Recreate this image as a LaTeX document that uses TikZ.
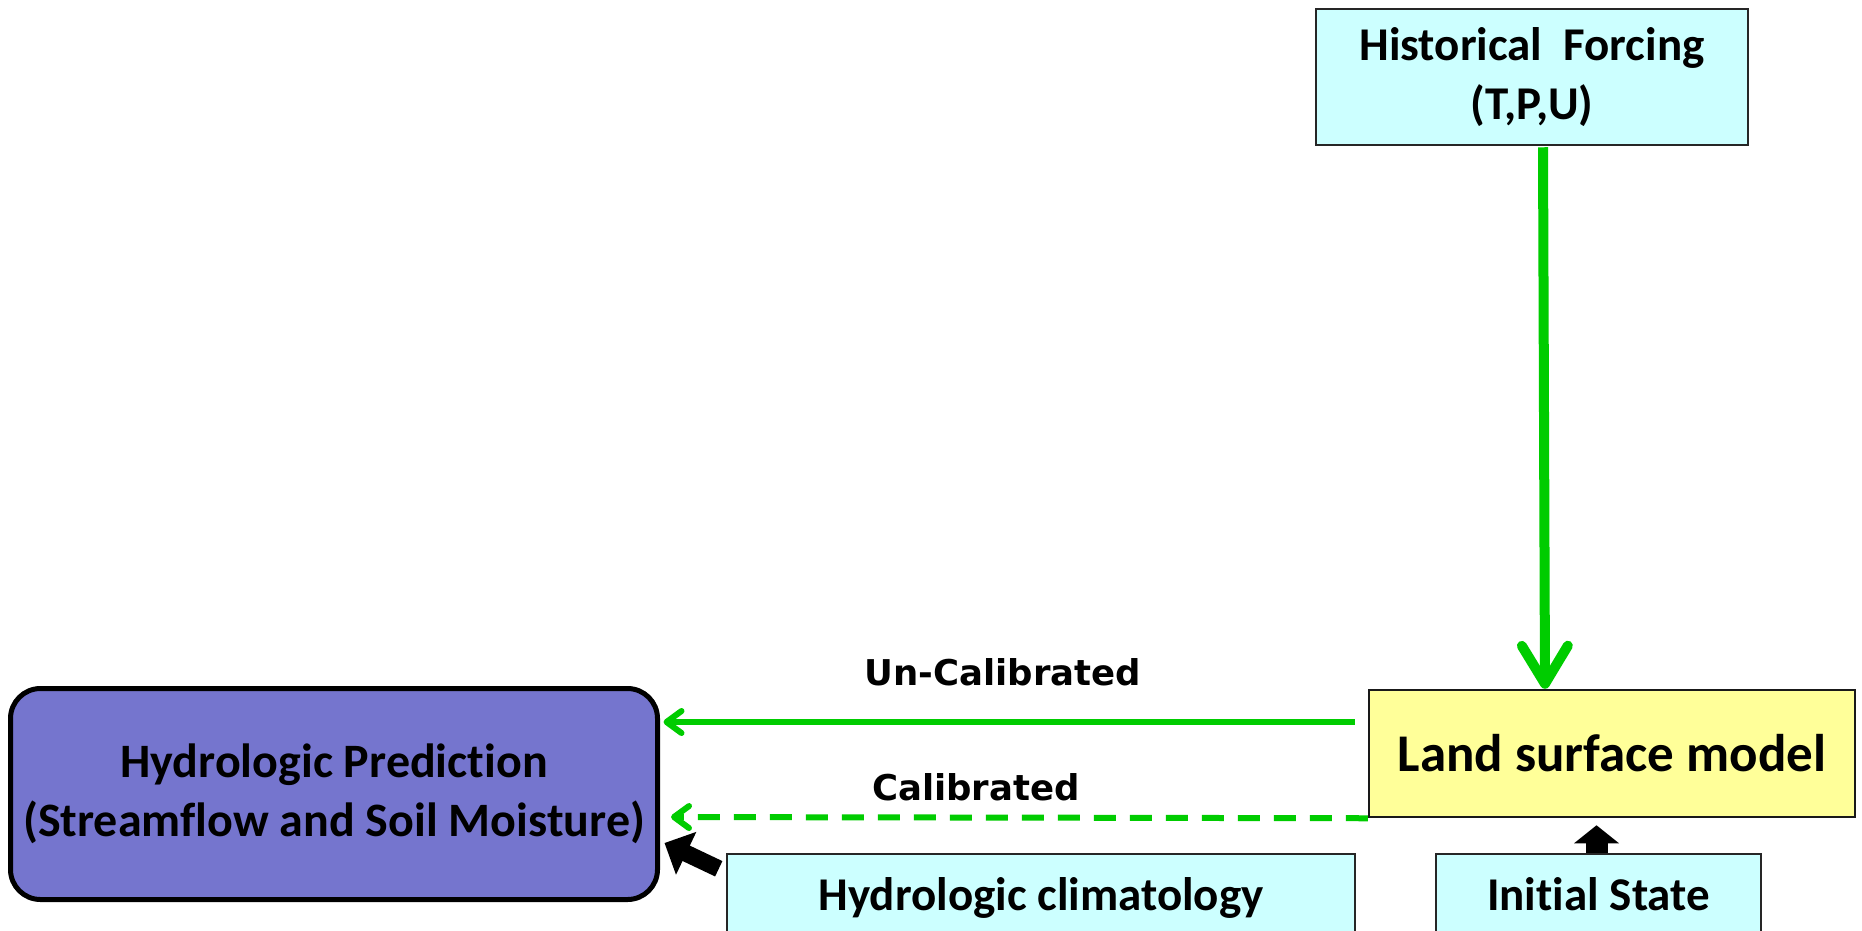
\documentclass[tikz,border=0pt]{standalone}
\usepackage{fontspec}
\setmainfont{Carlito}[Ligatures={NoCommon}]
\newfontfamily\labelfont{DejaVu Sans}
\usetikzlibrary{arrows.meta,calc}
\definecolor{fgreen}{RGB}{0,204,0}
\definecolor{cyanbox}{RGB}{204,255,255}
\definecolor{yelbox}{RGB}{255,255,153}
\definecolor{purbox}{RGB}{117,117,206}
\begin{document}
\begin{tikzpicture}[x=1pt,y=-1pt,
  box/.style={draw=black!85, line width=2.5pt, fill=cyanbox, inner sep=0pt, align=center,
    font=\bfseries\fontsize{47}{59}\selectfont},
  lowbox/.style={box, minimum height=88pt, text height=35pt, text depth=10pt},
  lsmbox/.style={draw=black!90, line width=2.5pt, fill=yelbox, inner sep=0pt,
    font=\bfseries\fontsize{53}{64}\selectfont},
  predbox/.style={draw=black, line width=5pt, fill=purbox, rounded corners=30pt, inner sep=0pt,
    align=center, font=\bfseries\fontsize{48}{59}\selectfont},
  lbl/.style={font=\labelfont\bfseries\fontsize{35.5}{42}\selectfont, inner sep=0pt},
  greenarrow/.style={fgreen, line width=6pt,
    -{Straight Barb[length=15pt,width=22pt,line cap=round,line join=round]}},
  blockarrow/.style={black}
]
\clip (0,0) rectangle (1862,930);
\fill[white] (0,0) rectangle (1862,930);

\node[box, minimum width=432pt, minimum height=136pt] (hf) at (1532,77) {Historical\ \ Forcing\\(T,P,U)};
\node[lsmbox, minimum width=486pt, minimum height=127pt] (lsm) at (1612,753.5) {Land surface model};
\node[predbox, minimum width=647pt, minimum height=211pt] (hp) at (334,794)
  {Hydrologic Prediction\\(Streamflow and Soil Moisture)};
\node[lowbox, minimum width=628pt] (hc) at (1041,898) {Hydrologic climatology};
\node[lowbox, minimum width=325pt] (is) at (1598.5,898) {Initial State};

\node[lbl] (unc) at (1003,672) {Un-Calibrated};
\node[lbl] (cal) at (976,787) {Calibrated};

\draw[fgreen, line width=10pt,
  -{Straight Barb[length=38pt,width=46pt,line cap=round,line join=round]}]
  ($(hf.south)+(11,1)$) -- ($(lsm.north)+(-67,0)$);
\draw[greenarrow] ($(lsm.west)+(-13,-31.5)$) -- ($(hp.east)+(3.5,-72)$);
\draw[greenarrow, dash pattern=on 22pt off 14pt] (lsm.south west) -- ($(hp.east)+(11,23)$);

\draw[blockarrow, line width=17pt, -{Triangle[length=24pt,width=46pt]}]
  ($(hc.north west)+(-7,16)$) -- ($(hp.east)+(4.5,49)$);
\draw[blockarrow, line width=22pt, -{Triangle[length=18pt,width=44pt]}]
  ($(is.north)+(-2,0)$) -- ($(is.north |- lsm.south)+(-2,7)$);
\end{tikzpicture}
\end{document}
